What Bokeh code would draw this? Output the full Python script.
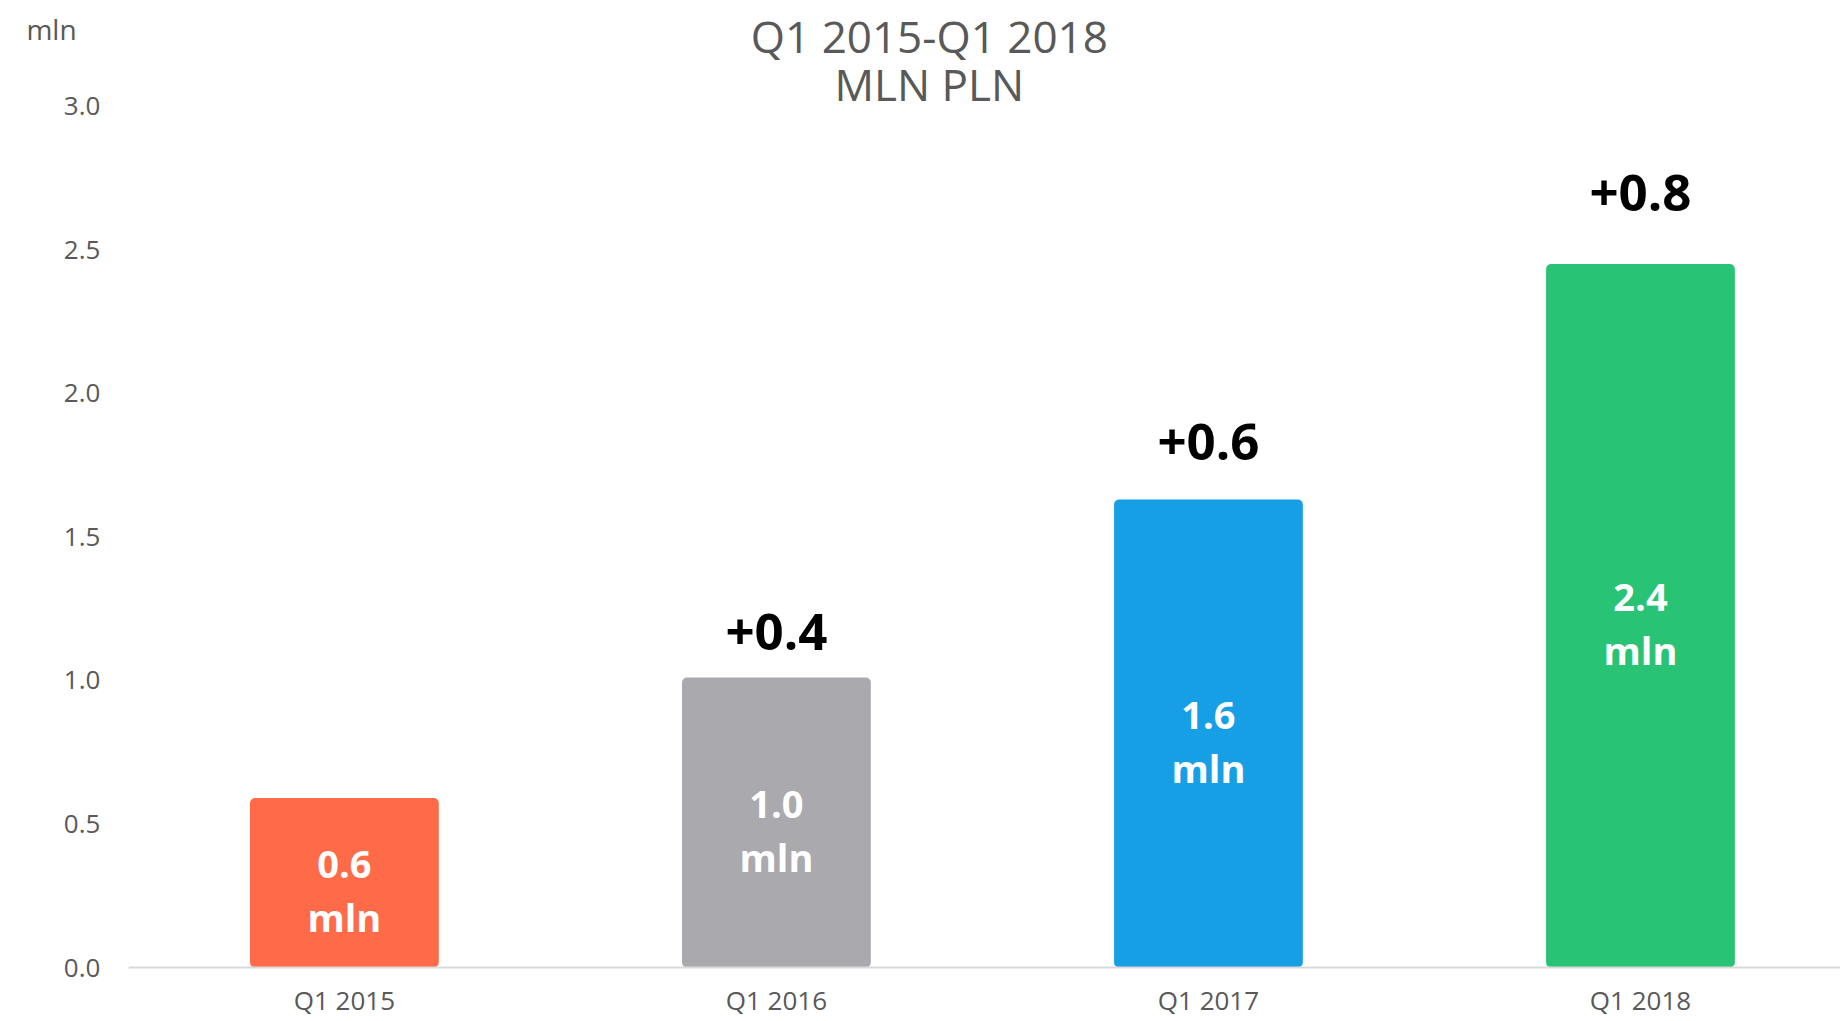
from bokeh.plotting import figure
from bokeh.models import ColumnDataSource, FixedTicker, Label
from bokeh.core.properties import value
from bokeh.embed import file_html
from bokeh.resources import INLINE

# ---- data ----
categories = ["Q1 2015", "Q1 2016", "Q1 2017", "Q1 2018"]
values = [0.59, 1.01, 1.63, 2.45]
value_labels = ["0.6", "1.0", "1.6", "2.4"]
unit_labels = ["mln", "mln", "mln", "mln"]
growth_labels = ["", "+0.4", "+0.6", "+0.8"]
colors = ["#FF6A48", "#AAA9AD", "#179FE6", "#29C376"]
y_ticks = [0.0, 0.5, 1.0, 1.5, 2.0, 2.5, 3.0]
title_lines = ["Q1 2015-Q1 2018", "MLN PLN"]
unit_text = "mln"

# ---- layout / style ----
FONT = "Open Sans"
GRAY = "#595959"
growth_gap_px = [0, 46, 58, 71]   # label centre distance above bar top
X_END = 3.963                       # visible part of the category axis
X_START = -0.296                    # room for the value axis labels
Y_START = -0.188                    # room for the category labels
Y_END = 3.368

xs = [i + 0.5 for i in range(len(categories))]

p = figure(width=1840, height=1021, x_range=(X_START, X_END), y_range=(Y_START, Y_END),
           output_backend="svg", toolbar_location=None, tools="",
           min_border_left=0, min_border_right=0, min_border_top=0,
           min_border_bottom=0)
p.outline_line_color = None
p.xgrid.grid_line_color = None
p.ygrid.grid_line_color = None
p.background_fill_color = "white"
p.border_fill_color = "white"

src = ColumnDataSource(dict(x=xs, top=values, color=colors,
                            half=[v / 2 for v in values],
                            vl=value_labels, ul=unit_labels))
p.vbar(x="x", top="top", bottom=0, width=0.437, fill_color="color",
       line_color=None, border_radius=5, source=src)

p.text(x="x", y="half", text="vl", source=src, text_color="white",
       text_font=value(FONT), text_font_style="bold", text_font_size="38px",
       text_align="center", text_baseline="middle", y_offset=-18)
p.text(x="x", y="half", text="ul", source=src, text_color="white",
       text_font=value(FONT), text_font_style="bold", text_font_size="38px",
       text_align="center", text_baseline="middle", y_offset=34)

gx, gy, gt, go = [], [], [], []
for x, v, t, g in zip(xs, values, growth_labels, growth_gap_px):
    if t:
        gx.append(x); gy.append(v); gt.append(t); go.append(-g)
gsrc = ColumnDataSource(dict(x=gx, y=gy, t=gt, o=go))
p.text(x="x", y="y", text="t", y_offset="o", source=gsrc, text_color="black",
       text_font=value(FONT), text_font_style="bold", text_font_size="51px",
       text_align="center", text_baseline="middle")

# axes
p.yaxis.fixed_location = 0
p.yaxis.ticker = FixedTicker(ticks=y_ticks)
p.yaxis.major_label_overrides = {t: f"{t:.1f}" for t in y_ticks}
p.yaxis.axis_line_color = None
p.yaxis.major_tick_line_color = None
p.yaxis.minor_tick_line_color = None
p.yaxis.major_tick_out = 0
p.yaxis.major_tick_in = 0
p.yaxis.major_label_standoff = 28
p.yaxis.major_label_text_font = FONT
p.yaxis.major_label_text_font_size = "26px"
p.yaxis.major_label_text_color = GRAY

p.xaxis.fixed_location = 0
p.xaxis.ticker = FixedTicker(ticks=xs)
p.xaxis.bounds = (0, X_END)
p.xaxis.major_label_overrides = {x: c for x, c in zip(xs, categories)}
p.xaxis.axis_line_color = "#D9D9D9"
p.xaxis.axis_line_width = 2
p.xaxis.major_tick_line_color = None
p.xaxis.minor_tick_line_color = None
p.xaxis.major_tick_out = 0
p.xaxis.major_tick_in = 0
p.xaxis.major_label_standoff = 14
p.xaxis.major_label_text_font = FONT
p.xaxis.major_label_text_font_size = "26px"
p.xaxis.major_label_text_color = GRAY

# titles
p.add_layout(Label(x=1.854, y=3.243, text=title_lines[0], text_font=FONT,
                   text_font_size="44px", text_color=GRAY, text_align="center",
                   text_baseline="middle"))
p.add_layout(Label(x=1.854, y=3.076, text=title_lines[1], text_font=FONT,
                   text_font_size="44px", text_color=GRAY, text_align="center",
                   text_baseline="middle"))
p.add_layout(Label(x=-0.236, y=3.267, text=unit_text, text_font=FONT,
                   text_font_size="28px", text_color=GRAY, text_align="left",
                   text_baseline="middle"))

open("out.html", "w").write(file_html(p, INLINE))
